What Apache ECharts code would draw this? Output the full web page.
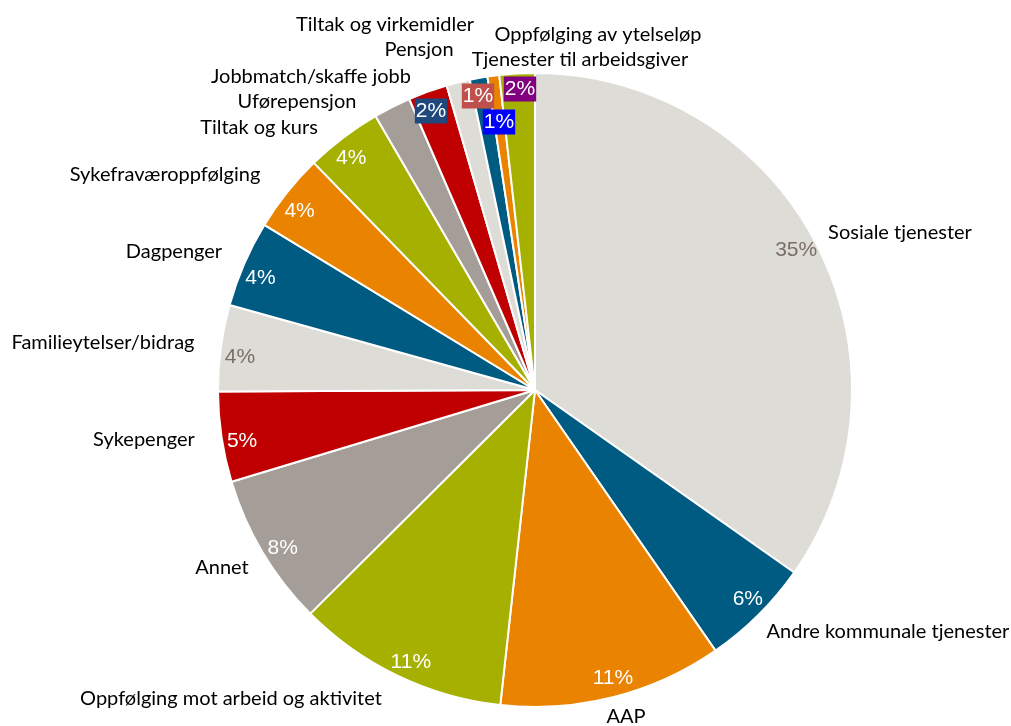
<!DOCTYPE html>
<html>
<head>
<meta charset="utf-8">
<script src="https://cdn.jsdelivr.net/npm/echarts@6/dist/echarts.min.js"></script>
<style>
  html, body { margin: 0; padding: 0; background: #ffffff; }
  #chart { width: 1011px; height: 726px; }
</style>
</head>
<body>
<div id="chart"></div>
<script>
// Share of enquiries per service area (percent)
const categories = [
  'Sosiale tjenester',
  'Andre kommunale tjenester',
  'AAP',
  'Oppfølging mot arbeid og aktivitet',
  'Annet',
  'Sykepenger',
  'Familieytelser/bidrag',
  'Dagpenger',
  'Sykefraværoppfølging',
  'Tiltak og kurs',
  'Uførepensjon',
  'Jobbmatch/skaffe jobb',
  'Pensjon',
  'Tiltak og virkemidler',
  'Oppfølging av ytelseløp',
  'Tjenester til arbeidsgiver'
];
const shares = [34.8, 5.6, 11.4, 10.8, 7.8, 4.6, 4.4, 4.4, 4.0, 3.9, 1.9, 2.0, 1.2, 0.9, 0.6, 1.8];

// Slices whose percentage is not printed
const unlabelledShares = ['Uførepensjon', 'Oppfølging av ytelseløp'];

// Six-colour cycle used around the pie
const palette = ['#DEDCD7', '#005B82', '#E98300', '#A6B000', '#A59D97', '#C00000'];

// Category name placement (text centre) around the pie
const nameAnchors = {
  'Sosiale tjenester': [900, 233],
  'Andre kommunale tjenester': [888, 632],
  'AAP': [626, 717],
  'Oppfølging mot arbeid og aktivitet': [231, 699],
  'Annet': [222, 568],
  'Sykepenger': [144, 440],
  'Familieytelser/bidrag': [103, 343],
  'Dagpenger': [174, 252],
  'Sykefraværoppfølging': [165, 175],
  'Tiltak og kurs': [259, 128],
  'Uførepensjon': [297, 102],
  'Jobbmatch/skaffe jobb': [311, 77],
  'Pensjon': [419, 50],
  'Tiltak og virkemidler': [385, 25],
  'Oppfølging av ytelseløp': [598, 35],
  'Tjenester til arbeidsgiver': [580, 60]
};

// Boxed percentage labels on the narrow slices at the top
const boxedLabels = {
  'Jobbmatch/skaffe jobb': { at: [431, 111], bg: '#1F497D' },
  'Pensjon': { at: [478, 96], bg: '#C0504D' },
  'Tiltak og virkemidler': { at: [499, 122], bg: '#0000FF' },
  'Tjenester til arbeidsgiver': { at: [520, 89], bg: '#800080' }
};

const CENTER = [535, 390];
const R = 317;
const lightSlices = ['#DEDCD7'];

const sliceData = categories.map((name, i) => ({
  name,
  value: shares[i],
  itemStyle: { color: palette[i % palette.length] }
}));

const pctData = categories.map((name, i) => {
  const col = palette[i % palette.length];
  const boxed = boxedLabels[name];
  const hidden = unlabelledShares.indexOf(name) >= 0;
  const label = {
    show: !hidden,
    color: !boxed && lightSlices.indexOf(col) >= 0 ? '#7A6F66' : '#FFFFFF'
  };
  if (boxed) {
    label.backgroundColor = boxed.bg;
    label.padding = [3, 1, 1, 1];
    label.lineHeight = 21;
  }
  return { name, value: shares[i], label };
});

const chart = echarts.init(document.getElementById('chart'), null, { renderer: 'canvas' });

chart.setOption({
  animation: false,
  backgroundColor: '#ffffff',
  series: [
    {
      // the pie itself, with category names outside
      type: 'pie',
      center: CENTER,
      radius: [0, R],
      startAngle: 90,
      clockwise: true,
      avoidLabelOverlap: false,
      silent: true,
      itemStyle: { borderColor: '#ffffff', borderWidth: 2 },
      label: {
        show: true,
        position: 'outside',
        formatter: '{b}',
        fontFamily: 'Lato',
        fontSize: 20,
        color: '#000000'
      },
      labelLine: { show: false },
      labelLayout: (params) => {
        const a = nameAnchors[categories[params.dataIndex]];
        return a ? { x: a[0], y: a[1], align: 'center', verticalAlign: 'middle' } : {};
      },
      emphasis: { disabled: true },
      data: sliceData,
      z: 1
    },
    {
      // transparent ring carrying the percentage labels near the rim
      type: 'pie',
      center: CENTER,
      radius: [271, R],
      startAngle: 91,
      clockwise: true,
      avoidLabelOverlap: false,
      silent: true,
      itemStyle: { color: 'rgba(0,0,0,0)', borderWidth: 0 },
      label: {
        show: true,
        position: 'inside',
        rotate: 0,
        formatter: (p) => Math.round(p.value) + '%',
        fontFamily: 'Liberation Sans',
        fontSize: 21
      },
      labelLine: { show: false },
      labelLayout: (params) => {
        const b = boxedLabels[categories[params.dataIndex]];
        return b
          ? { x: b.at[0], y: b.at[1], align: 'center', verticalAlign: 'middle' }
          : { dy: 2 };
      },
      emphasis: { disabled: true },
      data: pctData,
      z: 2
    }
  ]
});
</script>
</body>
</html>
